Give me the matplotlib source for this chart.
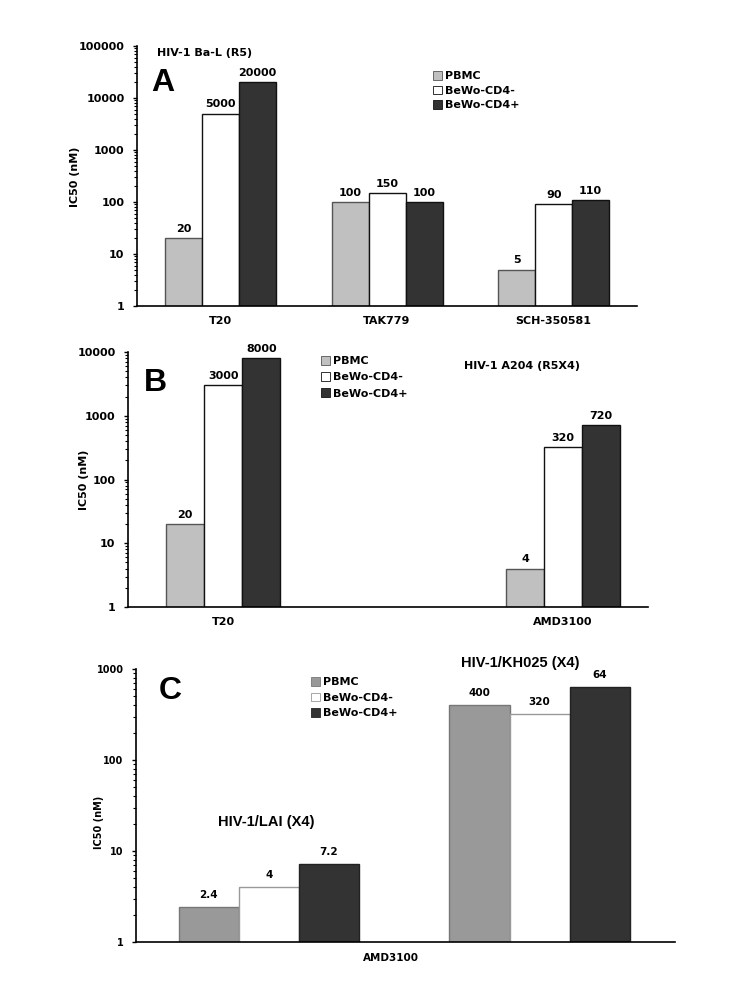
import numpy as np
import matplotlib
matplotlib.use('Agg')
import matplotlib.pyplot as plt
from matplotlib.patches import Patch

# data
series = ['PBMC', 'BeWo-CD4-', 'BeWo-CD4+']

a_drugs = ['T20', 'TAK779', 'SCH-350581']
a_pbmc = [20, 100, 5]
a_neg = [5000, 150, 90]
a_pos = [20000, 100, 110]

b_drugs = ['T20', 'AMD3100']
b_pbmc = [20, 4]
b_neg = [3000, 320]
b_pos = [8000, 720]

c_groups = ['HIV-1/LAI (X4)', 'HIV-1/KH025 (X4)']
c_pbmc = [2.4, 400]
c_neg = [4, 320]
c_pos = [7.2, 640]
c_labels = [['2.4', '4', '7.2'], ['400', '320', '64']]

W, H = 750, 1000
fig = plt.figure(figsize=(7.5, 10), dpi=100)
plt.rcParams['font.family'] = ['DejaVu Sans']


def px(x, y):
    return x / W, 1 - y / H


def axes_px(left, top, right, bottom):
    return fig.add_axes([left / W, 1 - bottom / H, (right - left) / W, (bottom - top) / H])


def style_axes(ax, ymax, tick_size):
    ax.set_yscale('log')
    ax.set_ylim(1, ymax)
    for s in ['top', 'right']:
        ax.spines[s].set_visible(False)
    for s in ['left', 'bottom']:
        ax.spines[s].set_linewidth(1.2)
    ax.tick_params(axis='y', which='major', direction='out', length=3, width=1, labelsize=tick_size, pad=6)
    ax.tick_params(axis='y', which='minor', direction='out', length=2, width=0.8)
    ax.tick_params(axis='x', length=0, labelsize=tick_size, pad=7)
    ax.yaxis.set_major_formatter(matplotlib.ticker.FuncFormatter(lambda v, p: '%d' % v))
    ax.yaxis.set_minor_formatter(matplotlib.ticker.NullFormatter())
    for lab in ax.get_yticklabels() + ax.get_xticklabels():
        lab.set_fontweight('bold')


def draw_bars(ax, x, w, vals, colors, edges, labels, fsize, off):
    x = np.asarray(x, dtype=float)
    for i, (v, c, e) in enumerate(zip(vals, colors, edges)):
        bars = ax.bar(x + (i - 1) * w, v, width=w, color=c, edgecolor=e, linewidth=1.0, zorder=2)
        for b, t in zip(bars, labels[i]):
            ax.annotate(t, (b.get_x() + b.get_width() / 2, b.get_height()),
                        xytext=(0, off), textcoords='offset points', ha='center', va='bottom',
                        fontsize=fsize, fontweight='bold')


def add_legend(ax, colors, edges, x, y, fsize, spacing):
    handles = [Patch(facecolor=c, edgecolor=e, linewidth=0.6) for c, e in zip(colors, edges)]
    ax.legend(handles, series, loc='upper left', bbox_to_anchor=px(x, y), bbox_transform=fig.transFigure,
              frameon=False, borderpad=0, borderaxespad=0, handlelength=0.8, handleheight=0.8,
              handletextpad=0.3, labelspacing=spacing, prop={'weight': 'bold', 'size': fsize})


ylab = dict(fontsize=8, fontweight='bold', rotation=90, ha='center', va='center')
letter = dict(fontsize=23, fontweight='bold', family='Liberation Sans', ha='center', va='center')

# ---- panel A
ax = axes_px(137, 46, 637, 306)
col = ['#c0c0c0', '#ffffff', '#333333']
edg = ['#555555', '#111111', '#111111']
draw_bars(ax, np.arange(len(a_drugs)), 0.222, [a_pbmc, a_neg, a_pos], col, edg,
          [[str(v) for v in a_pbmc], [str(v) for v in a_neg], [str(v) for v in a_pos]], 8, 3)
ax.set_xlim(-0.5, 2.5)
ax.set_xticks(np.arange(len(a_drugs)))
ax.set_xticklabels(a_drugs)
style_axes(ax, 100000, 8)
add_legend(ax, col, edg, 433, 71, 8, 0.4)
fig.text(*px(157, 53), 'HIV-1 Ba-L (R5)', fontsize=8, fontweight='bold', va='center')
fig.text(*px(163, 83), 'A', **letter)
fig.text(*px(75, 177), 'IC50 (nM)', **ylab)

# ---- panel B
ax = axes_px(128, 352, 648, 607)
draw_bars(ax, np.arange(len(b_drugs)), 0.112, [b_pbmc, b_neg, b_pos], col, edg,
          [[str(v) for v in b_pbmc], [str(v) for v in b_neg], [str(v) for v in b_pos]], 8, 3)
ax.set_xlim(-0.28, 1.25)
ax.set_xticks(np.arange(len(b_drugs)))
ax.set_xticklabels(b_drugs)
style_axes(ax, 10000, 8)
add_legend(ax, col, edg, 321, 356, 8, 0.55)
fig.text(*px(464, 366), 'HIV-1 A204 (R5X4)', fontsize=8, fontweight='bold', va='center')
fig.text(*px(155, 383), 'B', **letter)
fig.text(*px(84, 480), 'IC50 (nM)', **ylab)

# ---- panel C
ax = axes_px(136, 669, 675, 942)
col_c = ['#999999', '#ffffff', '#333333']
edg_c = ['#777777', '#999999', '#222222']
c_vals = [c_pbmc, c_neg, c_pos]
c_lab = [[c_labels[g][i] for g in range(len(c_groups))] for i in range(3)]
draw_bars(ax, np.arange(len(c_groups)), 0.222, c_vals, col_c, edg_c, c_lab, 7.5, 5)
ax.set_xlim(-0.49, 1.5)
ax.set_xticks([])
style_axes(ax, 1000, 7)
add_legend(ax, col_c, edg_c, 311, 677, 8, 0.5)
fig.text(*px(391, 958), 'AMD3100', fontsize=7.5, fontweight='bold', ha='center', va='center')
fig.text(*px(218, 822), c_groups[0], fontsize=10.5, fontweight='bold', family='Liberation Sans', va='center')
fig.text(*px(461, 663), c_groups[1], fontsize=10.5, fontweight='bold', family='Liberation Sans', va='center')
fig.text(*px(170, 691), 'C', **letter)
fig.text(*px(99, 822), 'IC50 (nM)', fontsize=7, fontweight='bold', rotation=90, ha='center', va='center')

fig.savefig('out.png', dpi=100)
